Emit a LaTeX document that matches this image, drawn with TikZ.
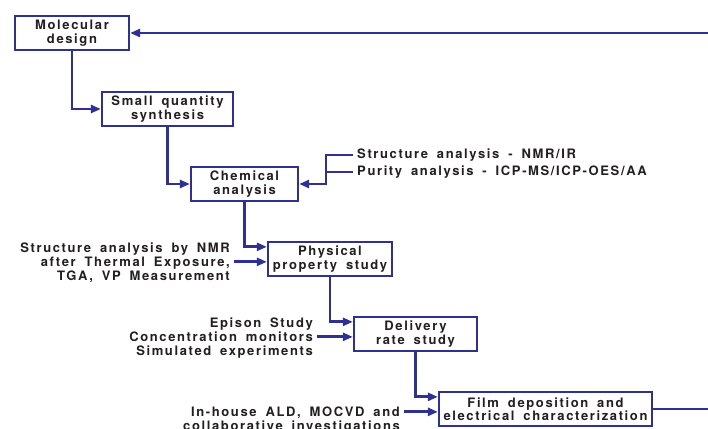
\documentclass[tikz,border=0pt]{standalone}
\usepackage{fontspec}
\setmainfont{TeX Gyre Heros}[LetterSpace=12.5,WordSpace=1.7]
\usetikzlibrary{arrows.meta,calc}
\definecolor{dblue}{RGB}{46,49,146}
\definecolor{ink}{RGB}{35,31,32}
\begin{document}
\begin{tikzpicture}[x=1pt,y=-1pt,
  txt/.style={font=\fontsize{13}{13.5}\selectfont\bfseries,text=ink},
  box/.style={txt,draw=dblue,line width=2.3pt,minimum height=34pt,inner sep=0pt,align=center},
  lab/.style={txt,font=\fontsize{13}{14}\selectfont\bfseries,inner xsep=4pt,inner ysep=0pt},
  conn/.style={draw=dblue,line width=2.8pt},
  arr/.style={conn,-{Triangle[length=10pt,width=8pt]}}]
\useasboundingbox (0,0) rectangle (708,428);
% boxes
\node[box,minimum width=114pt] (md) at (72,33) {Molecular\\design};
\node[box,minimum width=131pt] (sq) at (167.5,109) {Small quantity\\synthesis};
\node[box,minimum width=107pt] (ca) at (244.5,184) {Chemical\\analysis};
\node[box,minimum width=124pt] (pp) at (330,259) {Physical\\property study};
\node[box,minimum width=123pt] (dr) at (415.5,334) {Delivery\\rate study};
\node[box,minimum width=213pt] (fd) at (545.5,409) {Film deposition and\\electrical characterization};
% entry points
\coordinate (ppup) at ($(pp.north west)+(0,6)$);
\coordinate (pplo) at ($(pp.north west)+(0,21)$);
\coordinate (drup) at ($(dr.north west)+(0,6)$);
\coordinate (drlo) at ($(dr.north west)+(0,21)$);
\coordinate (fdup) at ($(fd.north west)+(0,6)$);
\coordinate (fdlo) at ($(fd.north west)+(0,21)$);
% labels
\node[lab,anchor=base west] (s1) at (353,158.5) {Structure analysis - NMR/IR};
\node[lab,anchor=base west] (s2) at (353,175.5) {Purity analysis - ICP-MS/ICP-OES/AA};
\node[lab,align=right,anchor=east] (l1) at (234,263) {Structure analysis by NMR\\after Thermal Exposure,\\TGA, VP Measurement};
\node[lab,align=right,anchor=east] (l2) at (317,338) {Epison Study\\Concentration monitors\\Simulated experiments};
\node[lab,align=right,anchor=north east] (l3) at (404,407) {In-house ALD, MOCVD and\\collaborative investigations};
% main chain
\draw[arr] (md.south) |- (sq.west);
\draw[arr] (sq.south) |- (ca.west);
\draw[arr] (ca.south) |- (ppup);
\draw[arr] (pp.south) |- (drup);
\draw[arr] (dr.south) |- (fdup);
% side inputs
\coordinate (j) at (326,184);
\draw[arr] (s1.west) -| (j) -- (ca.east);
\draw[conn] (s2.west) -- (s2.west -| j);
\draw[arr] (l1.east |- pplo) -- (pplo);
\draw[arr] (l2.east |- drlo) -- (drlo);
\draw[arr] (l3.north east |- fdlo) -- (fdlo);
% feedback
\coordinate (e1) at (708,409);
\coordinate (e2) at (708,33);
\draw[conn] (fd.east) -- (e1);
\draw[arr] (e2) -- (md.east);
\end{tikzpicture}
\end{document}
